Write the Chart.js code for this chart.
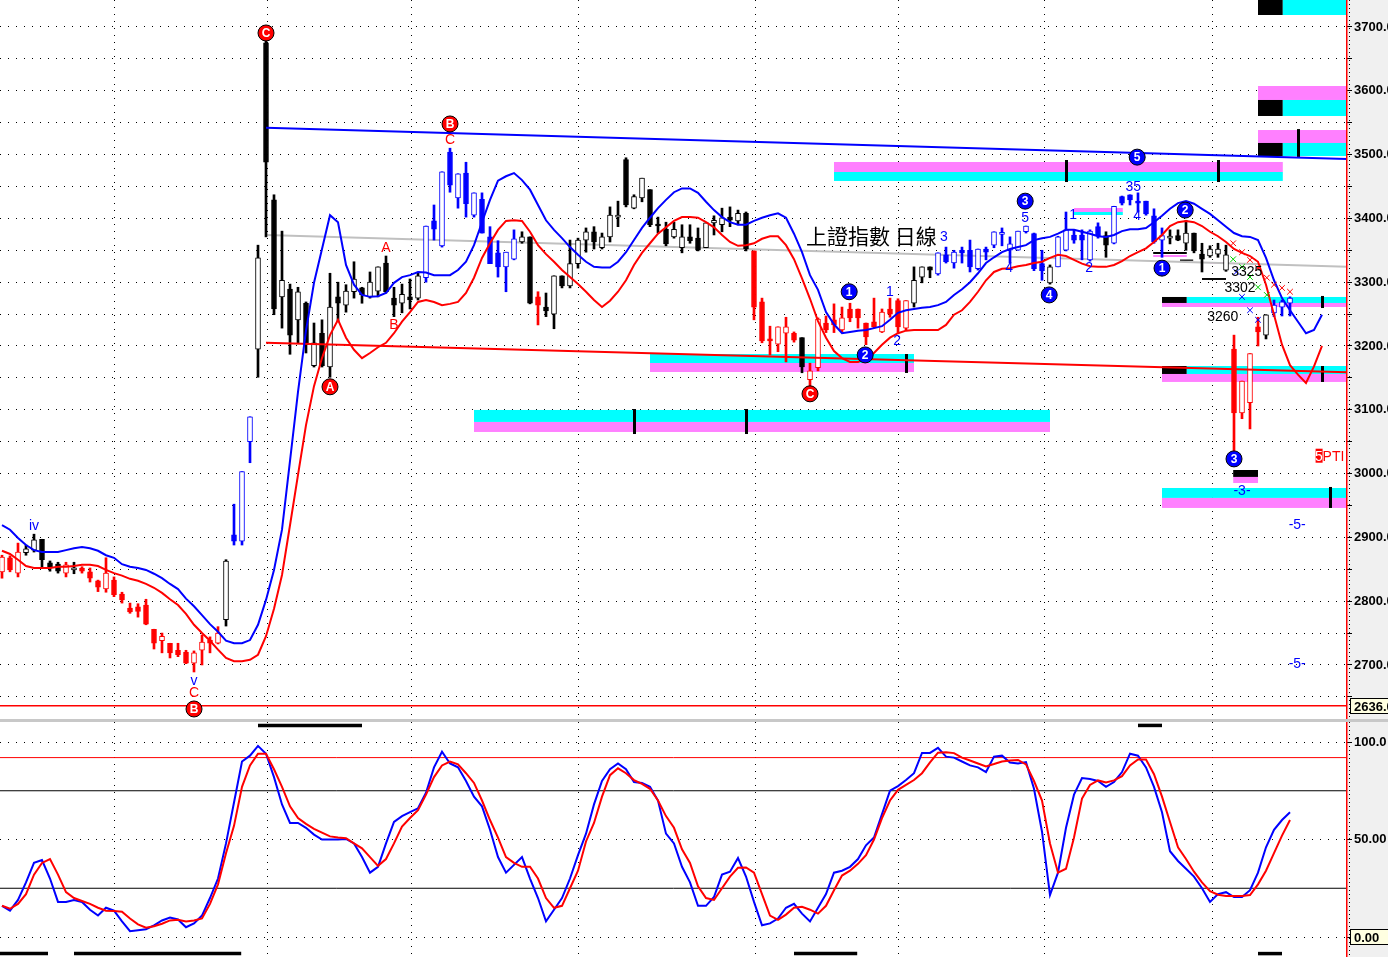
<!DOCTYPE html>
<html>
<head>
<meta charset="utf-8">
<script src="https://cdn.jsdelivr.net/npm/chart.js@4.4.1/dist/chart.umd.min.js"></script>
<style>
  body { margin: 0; background: #c8c8c8; }
  #wrap { position: relative; width: 1388px; height: 957px; overflow: hidden; background: #c8c8c8; }
  #mainChart { position: absolute; left: 0; top: 0; }
  #stochChart { position: absolute; left: 0; top: 722px; }
</style>
</head>
<body>
<div id="wrap">
  <canvas id="mainChart" width="1388" height="719"></canvas>
  <canvas id="stochChart" width="1388" height="235"></canvas>
</div>
<script>
// ---- velas diarias (índice 0..161) ----
const opens = [
  2846, 2868, 2844, 2876, 2880, 2897, 2860, 2858, 2844, 2849,
  2852, 2846, 2832, 2819, 2833, 2811, 2789, 2791, 2794, 2756,
  2738, 2734, 2723, 2720, 2703, 2723, 2739, 2734, 2771, 2904,
  2894, 3050, 3195, 3675, 3429, 3277, 3289, 3241, 3267, 3169,
  3220, 3167, 3277, 3264, 3285, 3291, 3277, 3286, 3330, 3275,
  3267, 3277, 3275, 3307, 3396, 3357, 3504, 3432, 3471, 3405,
  3430, 3371, 3346, 3324, 3336, 3363, 3371, 3277, 3261, 3250,
  3310, 3294, 3329, 3366, 3379, 3354, 3371, 3402, 3492, 3416,
  3432, 3445, 3391, 3383, 3371, 3354, 3371, 3369, 3354, 3393,
  3390, 3402, 3396, 3408, 3349, 3269, 3211, 3203, 3220, 3220,
  3213, 3147, 3166, 3236, 3241, 3225, 3258, 3258, 3236, 3238,
  3222, 3258, 3271, 3228, 3267, 3308, 3324, 3313, 3343, 3330,
  3350, 3350, 3321, 3352, 3358, 3375, 3350, 3350, 3379, 3376,
  3329, 3299, 3324, 3350, 3374, 3374, 3335, 3387, 3373, 3361,
  3434, 3437, 3427, 3427, 3404, 3366, 3369, 3373, 3361, 3377,
  3344, 3341, 3344, 3319, 3195, 3095, 3111, 3230, 3217, 3252,
  3261, 3267
];
const highs = [
  2872, 2871, 2891, 2888, 2905, 2897, 2863, 2861, 2861, 2861,
  2854, 2852, 2833, 2868, 2838, 2814, 2797, 2796, 2803, 2756,
  2750, 2734, 2734, 2723, 2722, 2747, 2744, 2760, 2865, 2952,
  3003, 3089, 3358, 3680, 3437, 3380, 3297, 3292, 3269, 3236,
  3241, 3314, 3300, 3296, 3332, 3292, 3316, 3324, 3341, 3292,
  3297, 3305, 3314, 3388, 3421, 3473, 3510, 3470, 3488, 3440,
  3440, 3387, 3365, 3347, 3382, 3379, 3371, 3285, 3283, 3310,
  3310, 3366, 3369, 3385, 3387, 3377, 3418, 3427, 3495, 3437,
  3463, 3445, 3402, 3394, 3394, 3390, 3390, 3385, 3393, 3404,
  3416, 3418, 3413, 3410, 3349, 3275, 3231, 3230, 3245, 3222,
  3213, 3173, 3244, 3247, 3266, 3261, 3267, 3258, 3236, 3275,
  3258, 3275, 3274, 3271, 3324, 3324, 3324, 3346, 3355, 3350,
  3355, 3366, 3352, 3355, 3379, 3385, 3371, 3380, 3388, 3377,
  3350, 3327, 3372, 3410, 3382, 3382, 3382, 3393, 3379, 3419,
  3435, 3437, 3440, 3427, 3415, 3385, 3382, 3382, 3397, 3377,
  3361, 3357, 3361, 3358, 3217, 3145, 3188, 3245, 3249, 3272,
  3272, 3277
];
const lows = [
  2836, 2846, 2838, 2872, 2877, 2854, 2847, 2844, 2838, 2843,
  2844, 2830, 2815, 2814, 2807, 2797, 2781, 2775, 2763, 2725,
  2719, 2711, 2713, 2702, 2689, 2700, 2719, 2733, 2761, 2888,
  2888, 3017, 3151, 3371, 3249, 3228, 3187, 3205, 3189, 3167,
  3167, 3151, 3238, 3253, 3275, 3267, 3275, 3277, 3283, 3246,
  3252, 3258, 3272, 3300, 3366, 3355, 3441, 3416, 3402, 3402,
  3377, 3329, 3308, 3285, 3335, 3361, 3266, 3233, 3246, 3227,
  3291, 3291, 3322, 3347, 3352, 3352, 3363, 3387, 3418, 3415,
  3426, 3387, 3377, 3357, 3369, 3346, 3361, 3349, 3354, 3374,
  3379, 3387, 3390, 3349, 3241, 3205, 3186, 3191, 3175, 3206,
  3158, 3131, 3161, 3221, 3221, 3222, 3238, 3228, 3202, 3228,
  3221, 3245, 3221, 3225, 3261, 3299, 3307, 3311, 3330, 3322,
  3330, 3316, 3319, 3335, 3354, 3357, 3330, 3350, 3377, 3318,
  3303, 3297, 3324, 3349, 3361, 3335, 3333, 3369, 3339, 3360,
  3421, 3421, 3410, 3405, 3361, 3339, 3360, 3365, 3350, 3346,
  3316, 3339, 3339, 3317, 3034, 3086, 3070, 3200, 3211, 3246,
  3247, 3247
];
const closes = [
  2869, 2849, 2877, 2882, 2896, 2865, 2854, 2847, 2857, 2852,
  2847, 2836, 2822, 2844, 2810, 2802, 2783, 2784, 2764, 2734,
  2745, 2719, 2716, 2703, 2719, 2736, 2734, 2750, 2863, 2894,
  3003, 3089, 3338, 3488, 3258, 3303, 3217, 3285, 3202, 3205,
  3169, 3261, 3267, 3286, 3305, 3280, 3300, 3324, 3285, 3264,
  3281, 3272, 3310, 3388, 3383, 3473, 3452, 3470, 3423, 3440,
  3377, 3329, 3324, 3347, 3368, 3371, 3267, 3264, 3255, 3310,
  3294, 3329, 3366, 3379, 3363, 3371, 3405, 3404, 3421, 3434,
  3463, 3390, 3388, 3360, 3383, 3371, 3365, 3350, 3393, 3397,
  3401, 3397, 3408, 3352, 3261, 3208, 3208, 3230, 3230, 3209,
  3167, 3161, 3242, 3225, 3233, 3244, 3244, 3244, 3214, 3230,
  3253, 3250, 3230, 3271, 3303, 3324, 3319, 3346, 3332, 3347,
  3346, 3324, 3352, 3347, 3379, 3378, 3360, 3380, 3388, 3321,
  3318, 3324, 3371, 3382, 3366, 3366, 3380, 3373, 3358, 3419,
  3424, 3429, 3424, 3407, 3363, 3373, 3371, 3366, 3377, 3349,
  3336, 3352, 3352, 3343, 3095, 3145, 3188, 3222, 3249, 3264,
  3269, 3275
];
// color de onda: r = rojo, k = negro, b = azul
const candleColors = (
  'rrr' + 'kkkkk' + 'r' + 'k' + 'rrrrrrrrrrrrrrrrrr' + 'k' + 'bbb' +
  'kkkkkkkkkkkkkkkkkkkkk' + 'bbbbbbbbbbbb' + 'kk' + 'r' +
  'kkkkkkkkkkkkkkkkkkkkkkkkkk' + 'rrrrrr' + 'k' + 'rrrrrrrrrrrrr' + 'kkk' +
  'bbbbbbbbbbbbbb' + 'k' + 'bbbbbb' + 'k' + 'bbbbbbb' + 'kkkkkkkk' + 'rrrr' + 'k' + 'bbb'
).split('');

// ---- bandas (azul arriba, roja abajo), índice 0..165 ----
const upperBand = [
  2919, 2912, 2899, 2888, 2880, 2877, 2877, 2877, 2880, 2883,
  2885, 2883, 2879, 2872, 2868, 2858, 2854, 2852, 2849, 2843,
  2836, 2827, 2819, 2804, 2792, 2778, 2764, 2752, 2738, 2734,
  2734, 2739, 2763, 2802, 2849, 2912, 3020, 3128, 3224, 3299,
  3352, 3405, 3394, 3327, 3296, 3280, 3277, 3278, 3283, 3299,
  3308, 3311, 3316, 3315, 3311, 3311, 3311, 3319, 3332, 3358,
  3394, 3429, 3459, 3466, 3471, 3460, 3445, 3421, 3397, 3382,
  3369, 3355, 3343, 3332, 3324, 3323, 3323, 3332, 3347, 3366,
  3385, 3401, 3416, 3429, 3441, 3447, 3447, 3440, 3426, 3413,
  3402, 3394, 3390, 3390, 3396, 3401, 3405, 3408, 3401, 3376,
  3347, 3311, 3288, 3253, 3234, 3220, 3222, 3224, 3225, 3228,
  3231, 3241, 3252, 3256, 3258, 3260, 3261, 3264, 3269, 3280,
  3289, 3300, 3314, 3330, 3339, 3347, 3352, 3355, 3358, 3366,
  3369, 3371, 3376, 3382, 3382, 3379, 3376, 3372, 3371, 3374,
  3380, 3383, 3383, 3385, 3394, 3404, 3415, 3424, 3427, 3423,
  3415, 3407, 3397, 3387, 3377, 3372, 3371, 3366, 3338, 3303,
  3275, 3256, 3238, 3220, 3225, 3249
];
const lowerBand = [
  2879, 2874, 2865, 2855, 2852, 2852, 2852, 2854, 2854, 2855,
  2857, 2857, 2855, 2849, 2844, 2840, 2835, 2832, 2827, 2821,
  2813, 2803, 2794, 2780, 2763, 2750, 2738, 2724, 2711, 2706,
  2706, 2708, 2716, 2745, 2788, 2841, 2919, 2998, 3076, 3137,
  3181, 3217, 3241, 3213, 3194, 3181, 3189, 3198, 3205, 3220,
  3238, 3253, 3269, 3272, 3269, 3264, 3266, 3269, 3283, 3307,
  3338, 3361, 3382, 3396, 3397, 3396, 3379, 3358, 3344, 3332,
  3319, 3308, 3297, 3285, 3272, 3261, 3271, 3285, 3303, 3327,
  3346, 3361, 3376, 3386, 3396, 3402, 3402, 3401, 3394, 3386,
  3374, 3363, 3357, 3358, 3361, 3368, 3372, 3372, 3358, 3336,
  3306, 3274, 3239, 3213, 3192, 3181, 3175, 3175, 3181, 3189,
  3202, 3213, 3220, 3224, 3225, 3225, 3225, 3225, 3233, 3249,
  3256, 3269, 3285, 3303, 3316, 3321, 3322, 3325, 3327, 3330,
  3332, 3338, 3343, 3341, 3335, 3329, 3325, 3324, 3324, 3327,
  3333, 3341, 3347, 3353, 3363, 3374, 3388, 3394, 3396, 3394,
  3388, 3379, 3372, 3363, 3352, 3346, 3341, 3332, 3296, 3249,
  3202, 3170, 3155, 3142, 3168, 3200
];

// ---- estocástico %K / %D ----
const stochK = [
  16, 13.5, 19, 28, 38, 39.5, 30, 18, 18, 19,
  18, 14, 11, 15, 13.5, 8, 3, 3.5, 4, 6,
  8.5, 10, 9, 5, 7, 11, 20, 30, 48, 69,
  90, 93, 98, 94, 82, 68, 58.5, 58.5, 56, 52.5,
  50, 50, 50, 50.3, 48, 41, 33, 36, 48, 59,
  62, 64, 66, 74, 87, 95, 89, 87, 80, 72,
  67, 55, 41, 33, 37, 41, 30, 20, 8, 14,
  20, 30, 42, 53, 68, 80, 86, 89, 86, 79.5,
  79, 77, 70, 53, 48, 36, 28, 16, 16, 20.5,
  32, 33.5, 40.5, 31, 18, 6, 7, 9.5, 15, 17,
  12, 8, 15, 22, 33, 34, 36, 40, 47, 51,
  63, 75, 77.4, 80.5, 84, 94.4, 94.4, 97, 92.5, 92,
  90, 88, 87, 84.6, 92.5, 93, 89.5, 89, 89.7, 76,
  54, 21.5, 33, 56, 73, 81.5, 81, 80, 77, 79.5,
  84.6, 94, 93, 87, 77, 64, 44, 39, 35, 31,
  25, 18, 22, 23, 20.5, 20.5, 24, 33, 46, 55,
  60, 64
];
const stochD = [
  16, 14.5, 17, 22, 32, 38, 40, 32, 23, 20,
  18.5, 17, 15, 13.5, 13.3, 13, 9.5, 6.5, 4.8, 5.5,
  6.8, 8.5, 8.8, 8, 8.5, 9.5, 17, 27, 43, 57,
  77, 88, 94, 94, 86, 77, 67, 61, 58, 55.5,
  53.5, 51.6, 51, 50.7, 48, 45.5, 41, 36.5, 40, 48,
  56.6, 61, 65, 73, 82, 88, 90, 88.5, 84, 79,
  70, 60, 51, 41, 38, 36, 36, 30, 20, 15,
  16, 25, 34, 49, 58.5, 72, 83, 86.5, 84, 80.5,
  78.5, 76, 70, 62, 56, 45, 38, 26, 20, 19,
  25, 31, 35.5, 35.7, 33, 22, 11, 8.8, 11.5, 15,
  15.5, 14, 12, 16, 24, 31.5, 34, 37.5, 42, 50,
  61, 70, 75.5, 78, 80.5, 84, 89.5, 94.5, 94.8, 94.3,
  92, 90.5, 89, 87.5, 88.7, 90, 90.5, 90.8, 88.5, 80,
  70, 48, 33, 35, 51, 71, 78, 80.3, 79.3, 80.3,
  82.5, 88, 91, 91, 83.5, 72, 59, 46, 40, 33.5,
  28, 23.5, 21.7, 21, 21, 21, 21.5, 27, 34, 43,
  52, 60
];
const stochLevels = [[92, 'r'], [75, 'k'], [25, 'k']];
// barras negras de señal en el panel inferior [desde, hasta, valor]
const stochMarks = [[32, 45, 108.5], [142, 145, 108.5], [-0.25, 5.75, -8.5], [9, 29.9, -8.5], [99, 106.9, -8.5], [157, 160, -8.5]];

// ---- líneas de tendencia [índice, precio] ----
const trendBlue = [[33, 3542], [168.125, 3493]];
const trendRed = [[33, 3205], [168.125, 3159]];
const trendGray = [[33, 3374], [168.125, 3324]];
const lastPrice = 2636;

// ---- proyecciones (cruces) ----
const crossRed = [[153.9, 3361], [155, 3347], [156, 3335], [157, 3322], [158.1, 3307], [159, 3296], [160, 3291], [161, 3285]];
const crossGreen = [[153.9, 3336], [155, 3324], [156, 3308], [157, 3292], [158.1, 3280]];
const crossBlue = [[154.3, 3316], [155, 3277], [156, 3256], [157, 3241]];

// ---- zonas de color [desde, hasta, precio arriba, precio abajo, color] ----
const zones = [
  [157, 160.1, 3746, 3718.8, 'k'], [160.1, 168.2, 3746, 3718.8, 'c'],
  [157, 168.2, 3607.5, 3585.6, 'm'],
  [157, 160.1, 3585.6, 3560.5, 'k'], [160.1, 168.2, 3585.6, 3560.5, 'c'],
  [157, 168.2, 3538.5, 3518.2, 'm'],
  [157, 160.1, 3518.2, 3497.8, 'k'], [160.1, 168.2, 3518.2, 3497.8, 'c'],
  [104, 160.1, 3488.4, 3472.7, 'm'], [104, 160.1, 3472.7, 3458.6, 'c'],
  [134, 140.1, 3416.3, 3410.0, 'm'], [134, 140.1, 3410.0, 3405.3, 'c'],
  [145, 148.1, 3276.8, 3267.4, 'k'], [148.1, 168.2, 3276.8, 3267.4, 'c'], [145, 168.2, 3267.4, 3261.1, 'm'],
  [81, 114, 3187.4, 3173.3, 'c'], [81, 114, 3173.3, 3159.2, 'm'],
  [145, 148.1, 3168.6, 3156.1, 'k'], [148.1, 168.2, 3168.6, 3156.1, 'c'], [145, 168.2, 3156.1, 3143.6, 'm'],
  [59, 131, 3099.7, 3080.9, 'c'], [59, 131, 3080.9, 3065.2, 'm'],
  [153.9, 157, 3005.6, 2994.7, 'k'], [153.9, 157, 2994.7, 2985.2, 'm'],
  [145, 168.2, 2977.4, 2961.8, 'c'], [145, 168.2, 2961.8, 2946.1, 'm'],
  [143.9, 148.1, 3347.3, 3344.2, 'k'], [143.9, 148.1, 3342.6, 3339.5, 'm'],
  [147.25, 148.9, 3335.5, 3333.5, 'k'], [150, 153, 3306.5, 3303.5, 'k'], [151, 153, 3331.6, 3329.5, 'm']
];
const zoneTicks = [[162, 3540, 3496], [133, 3491.5, 3457], [152, 3491.5, 3457], [165, 3278.4, 3259.5], [113, 3187.4, 3157.7], [165, 3168.6, 3143.6], [79, 3101.2, 3062], [93, 3101.2, 3062], [166, 2979, 2946.1]];

// ---- etiquetas de ondas ----
const waveCircles = [
  [33, 3690.6, 'C', 'r'], [56, 3548, 'B', 'r'], [41, 3136, 'A', 'r'], [101, 3125, 'C', 'r'], [24, 2631, 'B', 'r'],
  [105.9, 3285, '1', 'b'], [107.9, 3186, '2', 'b'], [127.9, 3427, '3', 'b'], [130.9, 3280, '4', 'b'],
  [141.9, 3496, '5', 'b'], [145, 3322, '1', 'b'], [147.9, 3413, '2', 'b'], [154, 3023, '3', 'b']
];
const waveLabels = [
  [4, 2918, 'iv', 'b'], [24, 2675, 'v', 'b'], [24, 2656, 'C', 'r'],
  [48, 3354, 'A', 'r'], [49, 3233, 'B', 'r'], [56, 3523, 'C', 'r'],
  [111, 3285, '1', 'b'], [111.9, 3208, '2', 'b'], [117.75, 3371, '3', 'b'],
  [127.9, 3401, '5', 'b'], [125.9, 3322, '4', 'b'], [133.9, 3405, '1', 'b'], [135.9, 3322, '2', 'b'],
  [141.4, 3449, '35', 'b'], [141.9, 3404, '4', 'b'],
  [155.6, 3316, '3325', 'k'], [154.75, 3291, '3302', 'k'], [152.6, 3245, '3260', 'k'],
  [155, 2973, '-3-', 'b'], [161.9, 2919, '-5-', 'b'], [161.9, 2702, '-5-', 'b']
];
const chartTitle = ['上證指數 日線', 100.5, 3372];
const ptiLabel = [164.2, 3028];
// separadores de mes (índice de vela)
const monthBreaks = [14, 33.1, 51.1, 72, 94.1, 112, 130.25, 151.25];

const colorMap = { r: '#ff0000', k: '#000000', b: '#0000ff', g: '#00c000', c: '#00ffff', m: '#ff80ff', s: '#c0c0c0' };
const X_MIN = -0.25, X_MAX = 168.125;
Chart.defaults.font.family = '"Liberation Sans", Arial, sans-serif';

function segment(pts) {
  return pts.map(p => ({ x: p[0], y: p[1] }));
}

function lineDs(data, color, width, order) {
  return { type: 'line', data: data, borderColor: color, borderWidth: width, pointRadius: 0, pointHoverRadius: 0, tension: 0, fill: false, order: order };
}

function crossDs(pts, color) {
  return { type: 'line', data: segment(pts), showLine: false, pointStyle: 'crossRot', pointRadius: 4, borderColor: color, borderWidth: 1, order: 0 };
}

function paintBackground(chart) {
  const { ctx, chartArea: a, width, height } = chart;
  ctx.save();
  ctx.fillStyle = '#ffffff';
  ctx.fillRect(0, 0, a.right, height);
  ctx.fillStyle = '#f0f0f0';
  ctx.fillRect(a.right, 0, width - a.right, height);
  ctx.restore();
}

function paintMonthLines(chart) {
  const { ctx, chartArea: a, scales: { x } } = chart;
  ctx.save();
  ctx.strokeStyle = '#000';
  ctx.lineWidth = 1;
  ctx.setLineDash([1, 6]);
  monthBreaks.forEach(m => {
    const px = Math.round(x.getPixelForValue(m)) + 0.5;
    ctx.beginPath();
    ctx.moveTo(px, a.top);
    ctx.lineTo(px, a.bottom);
    ctx.stroke();
  });
  ctx.restore();
}

function paintAxisEdge(chart) {
  const { ctx, chartArea: a } = chart;
  ctx.save();
  ctx.fillStyle = '#ff0000';
  ctx.fillRect(a.right - 1, 0, 1.5, chart.height);
  ctx.strokeStyle = '#000';
  ctx.setLineDash([1, 3]);
  ctx.beginPath();
  ctx.moveTo(a.right + 2.5, 0);
  ctx.lineTo(a.right + 2.5, chart.height);
  ctx.stroke();
  ctx.restore();
}

function paintValueBox(chart, value, text) {
  const { ctx, chartArea: a, scales: { y } } = chart;
  const py = Math.round(y.getPixelForValue(value));
  ctx.save();
  ctx.fillStyle = '#ffffe1';
  ctx.fillRect(a.right + 3, py - 8, chart.width - a.right - 3, 16);
  ctx.strokeStyle = '#000';
  ctx.lineWidth = 1;
  ctx.strokeRect(a.right + 3.5, py - 7.5, chart.width - a.right, 15);
  ctx.fillStyle = '#000';
  ctx.font = 'bold 13px "Liberation Sans", Arial';
  ctx.textAlign = 'left';
  ctx.textBaseline = 'middle';
  ctx.fillText(text, a.right + 7, py + 1);
  ctx.restore();
}

const mainDecor = {
  id: 'mainDecor',
  beforeDraw: paintBackground,
  beforeDatasetsDraw(chart) {
    const { ctx, chartArea: a, scales: { x, y } } = chart;
    paintMonthLines(chart);
    ctx.save();
    ctx.beginPath();
    ctx.rect(a.left, a.top, a.right - a.left, a.bottom - a.top);
    ctx.clip();
    zones.forEach(([x0, x1, top, bot, c]) => {
      const px0 = x.getPixelForValue(x0), px1 = x.getPixelForValue(x1);
      const py0 = y.getPixelForValue(top), py1 = y.getPixelForValue(bot);
      ctx.fillStyle = colorMap[c];
      ctx.fillRect(px0, py0, px1 - px0, py1 - py0);
    });
    ctx.fillStyle = '#000';
    zoneTicks.forEach(([xi, top, bot]) => {
      const px = x.getPixelForValue(xi);
      const py0 = y.getPixelForValue(top), py1 = y.getPixelForValue(bot);
      ctx.fillRect(px - 1, py0, 3, py1 - py0);
    });
    ctx.restore();
  },
  afterDatasetsDraw(chart) {
    const { ctx, scales: { x, y } } = chart;
    ctx.save();
    ctx.textAlign = 'center';
    ctx.textBaseline = 'middle';
    ctx.font = '14px "Liberation Sans", Arial';
    waveLabels.forEach(([xi, v, t, c]) => {
      ctx.fillStyle = colorMap[c];
      ctx.fillText(t, x.getPixelForValue(xi), y.getPixelForValue(v));
    });
    waveCircles.forEach(([xi, v, t, c]) => {
      const px = x.getPixelForValue(xi), py = y.getPixelForValue(v);
      ctx.beginPath();
      ctx.arc(px, py, 8, 0, Math.PI * 2);
      ctx.fillStyle = colorMap[c];
      ctx.fill();
      ctx.lineWidth = 1;
      ctx.strokeStyle = '#000';
      ctx.stroke();
      ctx.fillStyle = '#fff';
      ctx.font = 'bold 12px "Liberation Sans", Arial';
      ctx.fillText(t, px, py + 1);
    });
    // título
    ctx.textAlign = 'left';
    ctx.fillStyle = '#000';
    ctx.font = '21px "Noto Sans CJK TC", "Noto Sans CJK SC", sans-serif';
    ctx.fillText(chartTitle[0], x.getPixelForValue(chartTitle[1]), y.getPixelForValue(chartTitle[2]));
    // etiqueta 5PTI
    const px = x.getPixelForValue(ptiLabel[0]), py = y.getPixelForValue(ptiLabel[1]);
    ctx.font = '14px "Liberation Sans", Arial';
    ctx.fillStyle = '#ff0000';
    ctx.fillRect(px, py - 7, 7, 14);
    ctx.fillStyle = '#ffffff';
    ctx.fillText('5', px - 0.5, py + 1);
    ctx.fillStyle = '#ff0000';
    ctx.fillText('PTI', px + 7, py + 1);
    ctx.restore();
  },
  afterDraw(chart) {
    paintAxisEdge(chart);
    paintValueBox(chart, lastPrice, lastPrice.toFixed(1));
  }
};

const stochDecor = {
  id: 'stochDecor',
  beforeDraw: paintBackground,
  beforeDatasetsDraw: paintMonthLines,
  afterDraw(chart) {
    paintAxisEdge(chart);
    paintValueBox(chart, 0, '0.00');
  }
};

function yAxis(min, max, labelFn) {
  return {
    position: 'right',
    min: min,
    max: max,
    afterFit(s) { s.width = 41; s.paddingTop = 0; s.paddingBottom = 0; },
    ticks: {
      stepSize: 50,
      includeBounds: false,
      autoSkip: false,
      padding: 2,
      color: '#000',
      font: { size: 13, weight: 'bold' },
      callback: labelFn
    },
    grid: { color: '#000', lineWidth: 1, tickLength: 5, tickColor: '#000' },
    border: { display: false, dash: [1, 7] }
  };
}

function renderMainChart() {
  const idx = closes.map((_, i) => i);
  const cols = candleColors.map(c => colorMap[c]);
  const datasets = [
    lineDs(upperBand.map((v, i) => ({ x: i, y: v })), '#0000ff', 2, 1),
    lineDs(lowerBand.map((v, i) => ({ x: i, y: v })), '#ff0000', 2, 1),
    lineDs(segment(trendBlue), '#0000ff', 2, 2),
    lineDs(segment(trendRed), '#ff0000', 2, 2),
    lineDs(segment(trendGray), '#c0c0c0', 2, 6),
    lineDs(segment([[X_MIN, lastPrice], [X_MAX, lastPrice]]), '#ff0000', 1.5, 2),
    crossDs(crossRed, '#ff0000'),
    crossDs(crossGreen, '#00d000'),
    crossDs(crossBlue, '#0000ff'),
    {
      type: 'bar',
      data: idx.map(i => ({ x: i, y: [opens[i], closes[i]] })),
      backgroundColor: idx.map(i => (closes[i] > opens[i] ? '#ffffff' : cols[i])),
      borderColor: cols,
      borderWidth: 1,
      borderSkipped: false,
      barThickness: 5,
      minBarLength: 2,
      grouped: false,
      order: 4
    },
    {
      type: 'bar',
      data: idx.map(i => ({ x: i, y: [lows[i], highs[i]] })),
      backgroundColor: cols,
      borderWidth: 0,
      barThickness: 2,
      minBarLength: 1,
      grouped: false,
      order: 5
    }
  ];

  new Chart(document.getElementById('mainChart'), {
    type: 'bar',
    data: { datasets: datasets },
    options: {
      responsive: false,
      animation: false,
      events: [],
      layout: { padding: 0, autoPadding: false },
      plugins: { legend: { display: false }, tooltip: { enabled: false } },
      scales: {
        x: { type: 'linear', min: X_MIN, max: X_MAX, offset: false, display: false, grid: { offset: false } },
        y: yAxis(2615.3, 3742.3, v => (Math.round(v) % 100 === 0 ? v.toFixed(1) : ''))
      }
    },
    plugins: [mainDecor]
  });
}

function renderStochChart() {
  const datasets = [
    lineDs(stochK.map((v, i) => ({ x: i, y: v })), '#0000ff', 2, 1),
    lineDs(stochD.map((v, i) => ({ x: i, y: v })), '#ff0000', 2, 0)
  ];
  stochLevels.forEach(([v, c]) => {
    datasets.push(lineDs(segment([[X_MIN, v], [X_MAX, v]]), colorMap[c], 1, 5));
  });
  stochMarks.forEach(([a, b, v]) => {
    const ds = lineDs(segment([[a, v], [b, v]]), '#000000', 3.5, 3);
    ds.borderCapStyle = 'butt';
    datasets.push(ds);
  });

  new Chart(document.getElementById('stochChart'), {
    type: 'line',
    data: { datasets: datasets },
    options: {
      responsive: false,
      animation: false,
      events: [],
      layout: { padding: 0, autoPadding: false },
      plugins: { legend: { display: false }, tooltip: { enabled: false } },
      scales: {
        x: { type: 'linear', min: X_MIN, max: X_MAX, offset: false, display: false },
        y: yAxis(-10.25, 110.26, v => (v === 100 ? '100.0' : v === 50 ? '50.00' : ''))
      }
    },
    plugins: [stochDecor]
  });
}

renderMainChart();
renderStochChart();
</script>
</body>
</html>
